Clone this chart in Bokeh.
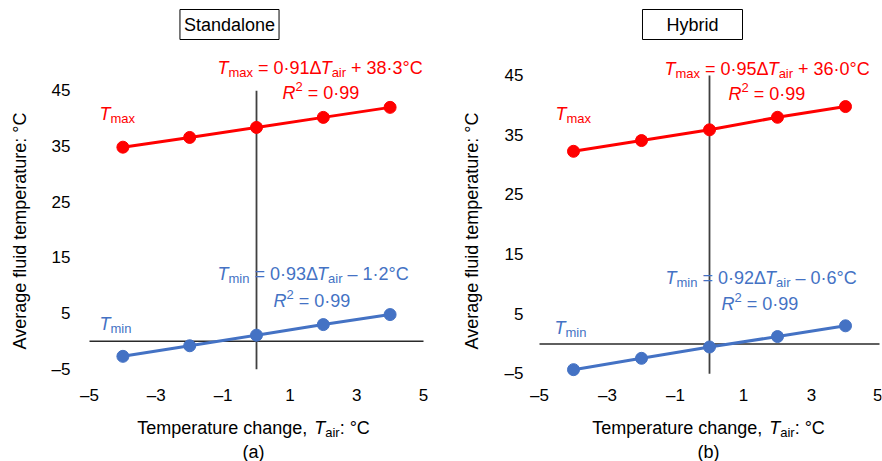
from bokeh.plotting import figure
from bokeh.models import Label, FixedTicker, Range1d
from bokeh.layouts import row
from bokeh.embed import file_html
from bokeh.resources import INLINE

# ---------------- data ----------------
delta_t_air = [-4, -2, 0, 2, 4]
standalone_tmax = [34.85, 36.6, 38.4, 40.2, 42.0]
standalone_tmin = [-2.7, -0.8, 1.1, 3.0, 4.8]
hybrid_tmax = [32.3, 34.1, 35.9, 38.0, 39.8]
hybrid_tmin = [-4.3, -2.4, -0.5, 1.25, 3.05]
x_ticks = [-5, -3, -1, 1, 3, 5]
y_ticks = [-5, 5, 15, 25, 35, 45]
tick_text = {-5: "\u20135", -3: "\u20133", -1: "\u20131"}

FONT = "Liberation Sans"
RED = "#ff0000"
BLUE = "#4472c4"
BIG = 18
SUB = 13
H = 461

# Arial / Liberation Sans advance widths (per 1000 em)
W = {" ": 278, "(": 333, ")": 333, "+": 584, ",": 278, ".": 278, ":": 278, "=": 584,
     "C": 722, "H": 722, "R": 722, "S": 667, "T": 611, "a": 556, "b": 556, "c": 500,
     "d": 556, "e": 556, "g": 556, "h": 556, "i": 222, "l": 222, "m": 833, "n": 556,
     "o": 556, "p": 556, "r": 333, "t": 278, "u": 556, "x": 500, "y": 500, "\u00b0": 400,
     "\u00b7": 278, "\u0394": 668, "\u2013": 556}


def tw(s, size):
    return sum(W.get(c, 556) for c in s) / 1000.0 * size


def make_panel(fl, fw, x0px, xs, y0px, ys, right_border, xaxis_px, label_standoff):
    # frame spans the full height; x scale: x0px = pixel of x=0, xs px/unit; same for y
    xr = ((fl - x0px) / xs, (fl + fw - x0px) / xs)
    yr = ((y0px - H) / ys, y0px / ys)
    p = figure(width=fl + fw + right_border, height=H,
               x_range=Range1d(*xr), y_range=Range1d(*yr),
               min_border_left=fl, min_border_right=right_border,
               min_border_top=0, min_border_bottom=0,
               output_backend="svg", toolbar_location=None)
    p.outline_line_color = None
    p.grid.visible = False
    p.background_fill_color = "white"
    p.border_fill_color = "white"

    def to_data(px, py):
        return (px - x0px) / xs, (y0px - py) / ys

    p._to_data = to_data
    p.xaxis.ticker = FixedTicker(ticks=x_ticks)
    p.yaxis.ticker = FixedTicker(ticks=y_ticks)
    p.xaxis.major_label_overrides = tick_text
    p.yaxis.major_label_overrides = tick_text
    p.xaxis.fixed_location = to_data(0, xaxis_px)[1]
    for ax in (p.xaxis, p.yaxis):
        ax.axis_line_color = None
        ax.major_tick_line_color = None
        ax.minor_tick_line_color = None
        ax.major_tick_out = 0
        ax.major_tick_in = 0
        ax.minor_tick_out = 0
        ax.minor_tick_in = 0
        ax.major_label_text_font = FONT
        ax.major_label_text_font_size = "17px"
        ax.major_label_text_color = "black"
    p.xaxis.major_label_standoff = 4
    p.yaxis.major_label_standoff = 6
    p.yaxis.axis_label = "Average fluid temperature: \u00b0C"
    p.yaxis.axis_label_text_font = FONT
    p.yaxis.axis_label_text_font_size = f"{BIG}px"
    p.yaxis.axis_label_text_font_style = "normal"
    p.yaxis.axis_label_text_color = "black"
    p.yaxis.axis_label_standoff = label_standoff

    # axis cross lines (through zero, spanning the tick extents)
    p.segment(x0=[0], y0=[y_ticks[0]], x1=[0], y1=[y_ticks[-1]], line_color="#404040", line_width=1.8)
    p.segment(x0=[x_ticks[0]], y0=[0], x1=[x_ticks[-1]], y1=[0], line_color="#2a2a2a", line_width=1.6)
    return p


def rich(p, x_px, y_px, pieces, color, align="left"):
    total = sum(tw(t, sz) for t, it, sz, dy in pieces)
    x = x_px - (total / 2.0 if align == "center" else 0)
    for t, it, sz, dy in pieces:
        lead = len(t) - len(t.lstrip(" "))
        dx, dyv = p._to_data(x + tw(" " * lead, sz), y_px + dy)
        p.add_layout(Label(x=dx, y=dyv, text=t.strip(" "), text_font=FONT,
                           text_font_size=f"{sz}px",
                           text_font_style="italic" if it else "normal",
                           text_color=color, text_align="left", text_baseline="alphabetic"))
        x += tw(t, sz)


def series(p, ys, color):
    p.line(delta_t_air, ys, line_color=color, line_width=3)
    p.scatter(delta_t_air, ys, size=12, fill_color=color, line_color=color)


def eq(name, slope, const, sign):
    return [("T", True, BIG, 0), (name, False, SUB, 5), (f" = {slope}\u0394", False, BIG, 0),
            ("T", True, BIG, 0), ("air", False, SUB, 5), (f" {sign} {const}\u00b0C", False, BIG, 0)]


R2 = [("R", True, BIG, 0), ("2", False, SUB, -6), (" = 0\u00b799", False, BIG, 0)]


def decorate(p, title, pad_h, box_cx, letter, lab_x, eqmax, eqmin, pos):
    bx, by = p._to_data(box_cx, 24)
    p.add_layout(Label(x=bx, y=by, text=title,
                       text_font=FONT, text_font_size=f"{BIG}px", text_color="black",
                       text_align="center", text_baseline="middle",
                       border_line_color="black", border_line_width=1,
                       background_fill_color="white",
                       padding=dict(left=pad_h, right=pad_h, top=5, bottom=5)))
    (ex, ey), (rx, ry), (tx, ty), (mx, my), (r2x, r2y), (nx, ny) = pos
    rich(p, ex, ey, eqmax, RED)
    rich(p, rx, ry, R2, RED)
    rich(p, tx, ty, [("T", True, BIG, 0), ("max", False, SUB, 5)], RED)
    rich(p, mx, my, eqmin, BLUE)
    rich(p, r2x, r2y, R2, BLUE)
    rich(p, nx, ny, [("T", True, BIG, 0), ("min", False, SUB, 5)], BLUE)
    rich(p, lab_x, 427, [("Temperature change, ", False, BIG, 0), ("T", True, BIG, 0),
                         ("air", False, SUB, 5), (": \u00b0C", False, BIG, 0)], "black", "center")
    rich(p, lab_x, 451, [(letter, False, BIG, 0)], "black", "center")


# ---------------- panel (a) Standalone ----------------
pa = make_panel(76, 360, 256, 33.4, 340.8, 5.57, 5, 381, 19)
series(pa, standalone_tmax, RED)
series(pa, standalone_tmin, BLUE)
decorate(pa, "Standalone", 4, 229, "(a)", 253,
         eq("max", "0\u00b791", "38\u00b73", "+"), eq("min", "0\u00b793", "1\u00b72", "\u2013"),
         [(217, 67), (282, 92), (99, 113), (217, 273), (273, 300), (99, 323)])

# ---------------- panel (b) Hybrid ----------------
pb = make_panel(88, 352, 268, 34.0, 343.5, 5.966, 1, 381, 20)
series(pb, hybrid_tmax, RED)
series(pb, hybrid_tmin, BLUE)
decorate(pb, "Hybrid", 24, 251, "(b)", 267,
         eq("max", "0\u00b795", "36\u00b70", "+"), eq("min", "0\u00b792", "0\u00b76", "\u2013"),
         [(223, 68), (287, 93), (114, 113), (224, 277), (280, 303), (113, 327)])

layout = row(pa, pb)
open("out.html", "w").write(file_html(layout, INLINE))
